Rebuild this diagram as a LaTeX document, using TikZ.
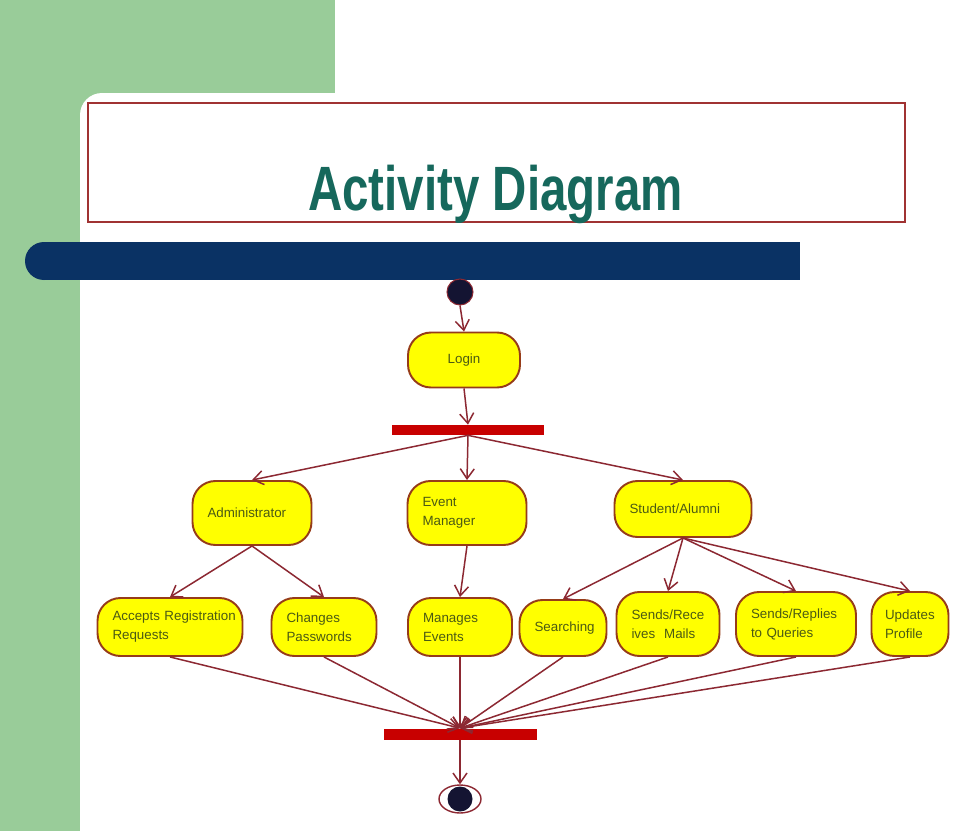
\documentclass[tikz,border=0pt]{standalone}
\usepackage{fontspec}
\setmainfont{Liberation Sans}
\usetikzlibrary{shapes.geometric, arrows.meta}
\definecolor{sidegreen}{RGB}{153, 204, 153}
\definecolor{barblue}{RGB}{10, 50, 100}
\definecolor{titleteal}{RGB}{22, 104, 92}
\definecolor{boxred}{RGB}{160, 50, 50}
\definecolor{actfill}{RGB}{255, 255, 0}
\definecolor{actline}{RGB}{150, 60, 25}
\definecolor{acttext}{RGB}{75, 90, 20}
\definecolor{syncred}{RGB}{200, 0, 0}
\definecolor{flowred}{RGB}{140, 40, 50}
\definecolor{dotfill}{RGB}{20, 20, 50}
\newcommand{\actfont}{\fontsize{7.6}{10.8}\selectfont\hyphenpenalty=10000\exhyphenpenalty=10000}

\tikzset{
  activity/.style={rectangle, rounded corners=4.6mm, draw=actline, fill=actfill,
    line width=1.1pt, text=acttext, font=\actfont, inner xsep=3mm, inner ysep=1pt, align=left},
  syncbar/.style={fill=syncred, inner sep=0pt, minimum height=2mm},
  flow/.style={draw=flowred, line width=0.85pt, -{Straight Barb[length=2mm, width=2.8mm]}},
}

\begin{document}
\begin{tikzpicture}[x=0.2mm, y=-0.2mm]

  \useasboundingbox (0, 0) rectangle (955, 831);
  \fill[white] (0, 0) rectangle (955, 831);

  % green frame
  \fill[sidegreen] (0, 0) rectangle (335, 120);
  \fill[sidegreen] (0, 0) rectangle (80, 831);
  \fill[white] (102, 93) rectangle (955, 831);
  \fill[white] (80, 115) rectangle (955, 831);
  \fill[white] (102, 115) circle (22);

  % title
  \draw[boxred, line width=0.7pt] (88, 103) rectangle (905, 222);
  \node[titleteal, font=\bfseries\fontsize{27}{30}\selectfont, anchor=base, inner sep=0pt] (title) at (495.5, 210) {\scalebox{1}[1.32]{Activity Diagram}};

  \fill[barblue] (44, 242) rectangle (800, 280);
  \fill[barblue] (44, 261) circle (19);

  % start and login
  \node[circle, fill=dotfill, draw=flowred, line width=0.6pt, minimum size=5.2mm, inner sep=0pt] (start) at (460, 292) {};
  \node[activity, align=center, text width=16.4mm, minimum height=11mm] (login) at (464, 360) {Login};
  \node[syncbar, minimum width=30.4mm] (fork) at (468, 430) {};

  % roles
  \node[activity, text width=17.8mm, minimum height=12.8mm] (admin) at (252, 513) {Administrator};
  \node[activity, text width=17.8mm, minimum height=12.8mm] (event) at (467, 513) {Event\\Manager};
  \node[activity, text width=21.4mm, minimum height=11.2mm] (student) at (683, 509) {Student/Alumni};

  % tasks
  \node[activity, text width=23mm, minimum height=11.6mm] (accepts) at (170, 627) {\mbox{Accepts Registration}\\Requests};
  \node[activity, text width=15mm, minimum height=11.6mm] (changes) at (324, 627) {Changes\\Passwords};
  \node[activity, text width=14.8mm, minimum height=11.6mm] (manages) at (460, 627) {Manages\\Events};
  \node[activity, text width=11.4mm, minimum height=11.2mm] (search) at (563, 628) {Searching};
  \node[activity, text width=14.6mm, minimum height=12.8mm] (mails) at (668, 624) {Sends/Rece\\ives\ \ Mails};
  \node[activity, text width=18mm, minimum height=12.8mm] (queries) at (796, 624) {Sends/Replies\\to Queries};
  \node[activity, text width=10mm, inner xsep=2.7mm, minimum height=12.8mm] (updates) at (910, 624) {Updates\\Profile};

  % join and end
  \node[syncbar, minimum width=30.6mm, minimum height=2.2mm] (join) at (460, 734) {};
  \node[ellipse, draw=flowred, line width=0.8pt, minimum width=8.4mm, minimum height=5.6mm, inner sep=0pt] (stop) at (460, 799) {};
  \node[circle, fill=dotfill, minimum size=5mm, inner sep=0pt] (stopdot) at (stop.center) {};

  \draw[flow] (start.south) -- (login.north);
  \draw[flow] (login.south) -- (fork.north);
  \draw[flow] (fork.south) -- (admin.north);
  \draw[flow] (fork.south) -- (event.north);
  \draw[flow] (fork.south) -- (student.north);

  \draw[flow] (admin.south) -- (accepts.north);
  \draw[flow] (admin.south) -- (changes.north);
  \draw[flow] (event.south) -- (manages.north);
  \draw[flow] (student.south) -- (search.north);
  \draw[flow] (student.south) -- (mails.north);
  \draw[flow] (student.south) -- (queries.north);
  \draw[flow] (student.south) -- (updates.north);

  \draw[flow] (accepts.south) -- (join.north);
  \draw[flow] (changes.south) -- (join.north);
  \draw[flow] (manages.south) -- (join.north);
  \draw[flow] (search.south) -- (join.north);
  \draw[flow] (mails.south) -- (join.north);
  \draw[flow] (queries.south) -- (join.north);
  \draw[flow] (updates.south) -- (join.north);
  \draw[flow] (join.south) -- (stop.north);

\end{tikzpicture}
\end{document}
